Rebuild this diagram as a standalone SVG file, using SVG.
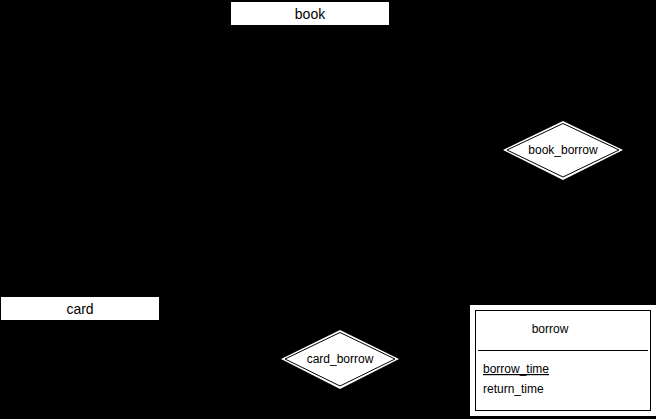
<svg xmlns="http://www.w3.org/2000/svg" width="656" height="419" viewBox="0 0 656 419">
  <style>
    text { font-family: "Liberation Sans", Arial, sans-serif; fill: #000; }
    .entity { fill: #fff; stroke: #000; stroke-width: 1; }
    .rel-outer { fill: #fff; stroke: none; }
    .rel-inner { fill: #fff; stroke: #000; stroke-width: 1; }
    .big { font-size: 14px; text-anchor: middle; }
    .small { font-size: 12px; }
  </style>
  <rect x="0" y="0" width="656" height="419" fill="#000"/>

  <g id="connectors"></g>

  <g id="book">
    <rect class="entity" x="230.5" y="1.5" width="159" height="24"/>
    <text class="big" x="310" y="19">book</text>
  </g>

  <g id="card">
    <rect class="entity" x="0.5" y="296.5" width="159" height="24"/>
    <text class="big" x="80" y="314">card</text>
  </g>

  <g id="book_borrow">
    <polygon class="rel-outer" points="503,150 563,121 623,150 563,180"/>
    <polygon class="rel-inner" points="507,150 563,123.5 619,150 563,177"/>
    <text class="small" x="563" y="154" text-anchor="middle">book_borrow</text>
  </g>

  <g id="card_borrow">
    <polygon class="rel-outer" points="281,359 340,330 399,359 340,389"/>
    <polygon class="rel-inner" points="285,359 340,332.5 395,359 340,386"/>
    <text class="small" x="340" y="363" text-anchor="middle">card_borrow</text>
  </g>

  <g id="borrow">
    <rect x="470" y="305" width="186" height="111" fill="#fff"/>
    <rect x="475.5" y="310.5" width="175" height="100" fill="#fff" stroke="#000" stroke-width="1"/>
    <line x1="478" y1="350.5" x2="648" y2="350.5" stroke="#000" stroke-width="1"/>
    <text class="small" x="550" y="333" text-anchor="middle">borrow</text>
    <text class="small" x="483" y="373" text-decoration="underline">borrow_time</text>
    <text class="small" x="483" y="393">return_time</text>
  </g>
</svg>
